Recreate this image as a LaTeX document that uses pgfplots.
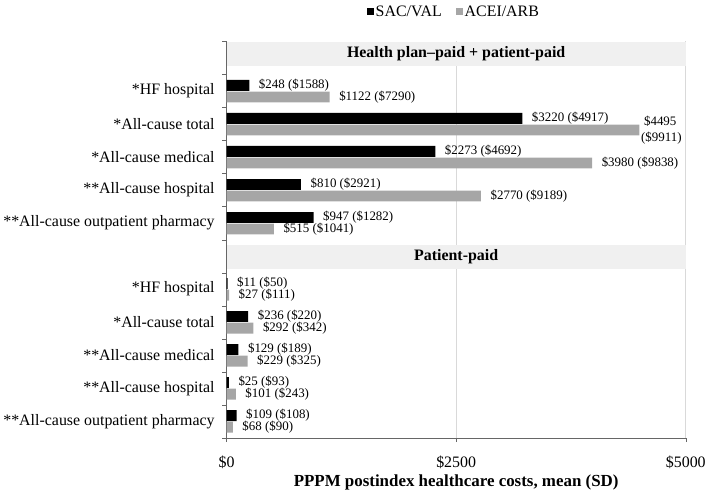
\documentclass[border=0pt]{standalone}
\usepackage{fontspec}
\setmainfont{Liberation Serif}
\usepackage{pgfplots}
\pgfplotsset{compat=1.18}
\definecolor{acegray}{RGB}{166,166,166}
\definecolor{bandgray}{RGB}{240,240,240}
\definecolor{gridgray}{RGB}{217,217,217}
\pgfplotsset{
  sq legend/.style={legend image code/.code={\fill[##1] (0pt,-3.5pt) rectangle (7pt,3.5pt);}},
  lab/.style={nodes near coords, point meta=explicit symbolic,
    nodes near coords align=horizontal,
    every node near coord/.append style={anchor=west, inner sep=0pt, xshift=9.5pt, yshift=#1,
      align=left, text=black, font=\fontsize{13}{15.7}\selectfont}},
}
\begin{document}
\begin{tikzpicture}
\begin{axis}[
  scale only axis,
  width=461.6pt, height=398.3pt,
  xmin=0, xmax=5000, ymin=-0.5, ymax=11.5,
  enlargelimits=false, clip=false,
  axis x line*=bottom, axis y line*=left,
  axis line style={-, black!60},
  tick align=outside, major tick length=4.5pt,
  tick style={black!60},
  xtick={0,2500,5000},
  xticklabels={\$0,\$2500,\$5000},
  xticklabel style={font=\fontsize{16}{19}\selectfont, yshift=-10pt},
  ytick={-0.5,0.5,1.5,2.5,3.5,4.5,5.5,6.5,7.5,8.5,9.5,10.5,11.5},
  yticklabels={**All-cause outpatient pharmacy,**All-cause hospital,**All-cause medical,*All-cause total,*HF hospital,,
    **All-cause outpatient pharmacy,**All-cause hospital,*All-cause medical,*All-cause total,*HF hospital,,},
  yticklabel style={yshift=16.6pt, xshift=-4pt, font=\fontsize{16}{19}\selectfont},
  xmajorgrids, grid style={gridgray, line width=0.8pt},
  xlabel={PPPM postindex healthcare costs, mean (SD)},
  xlabel style={font=\bfseries\fontsize{17}{20}\selectfont, at={(axis description cs:0.5,-0.114)}, anchor=center},
  legend columns=2,
  legend style={at={(axis description cs:0.495,1.075)}, anchor=center, draw=none, fill=none,
    font=\fontsize{16}{19}\selectfont, /tikz/every even column/.append style={column sep=12pt}},
]
% header bands
\fill[bandgray] (axis cs:0,10.77) rectangle (axis cs:5000,11.47);
\fill[bandgray] (axis cs:0,4.60) rectangle (axis cs:5000,5.35);
\node[font=\bfseries\fontsize{16}{19}\selectfont] at (axis cs:2500,11.12) {Health plan–paid + patient-paid};
\node[font=\bfseries\fontsize{16}{19}\selectfont] at (axis cs:2500,4.98) {Patient-paid};

% SAC/VAL
\addplot[xbar, bar width=0.33, bar shift=0.17, fill=black, draw=none, sq legend, lab=5.6pt] coordinates {
  (248,10) [\$248 (\$1588)]
  (3220,9) [\$3220 (\$4917)]
  (2273,8) [\$2273 (\$4692)]
  (810,7) [\$810 (\$2921)]
  (947,6) [\$947 (\$1282)]
  (11,4) [\$11 (\$50)]
  (236,3) [\$236 (\$220)]
  (129,2) [\$129 (\$189)]
  (25,1) [\$25 (\$93)]
  (109,0) [\$109 (\$108)]
};
\addlegendentry{SAC/VAL}

% ACEI/ARB
\addplot[xbar, bar width=0.33, bar shift=-0.18, fill=acegray, draw=none, sq legend, lab=-6.3pt] coordinates {
  (1122,10) [\$1122 (\$7290)]
  (4495,9) [{\hspace*{-5pt}\$4495\\\hspace*{-8pt}(\$9911)}]
  (3980,8) [\$3980 (\$9838)]
  (2770,7) [\$2770 (\$9189)]
  (515,6) [\$515 (\$1041)]
  (27,4) [\$27 (\$111)]
  (292,3) [\$292 (\$342)]
  (229,2) [\$229 (\$325)]
  (101,1) [\$101 (\$243)]
  (68,0) [\$68 (\$90)]
};
\addlegendentry{ACEI/ARB}
\end{axis}
\path (-226.7pt,-54pt) rectangle (482.3pt,440pt);
\end{tikzpicture}
\end{document}
